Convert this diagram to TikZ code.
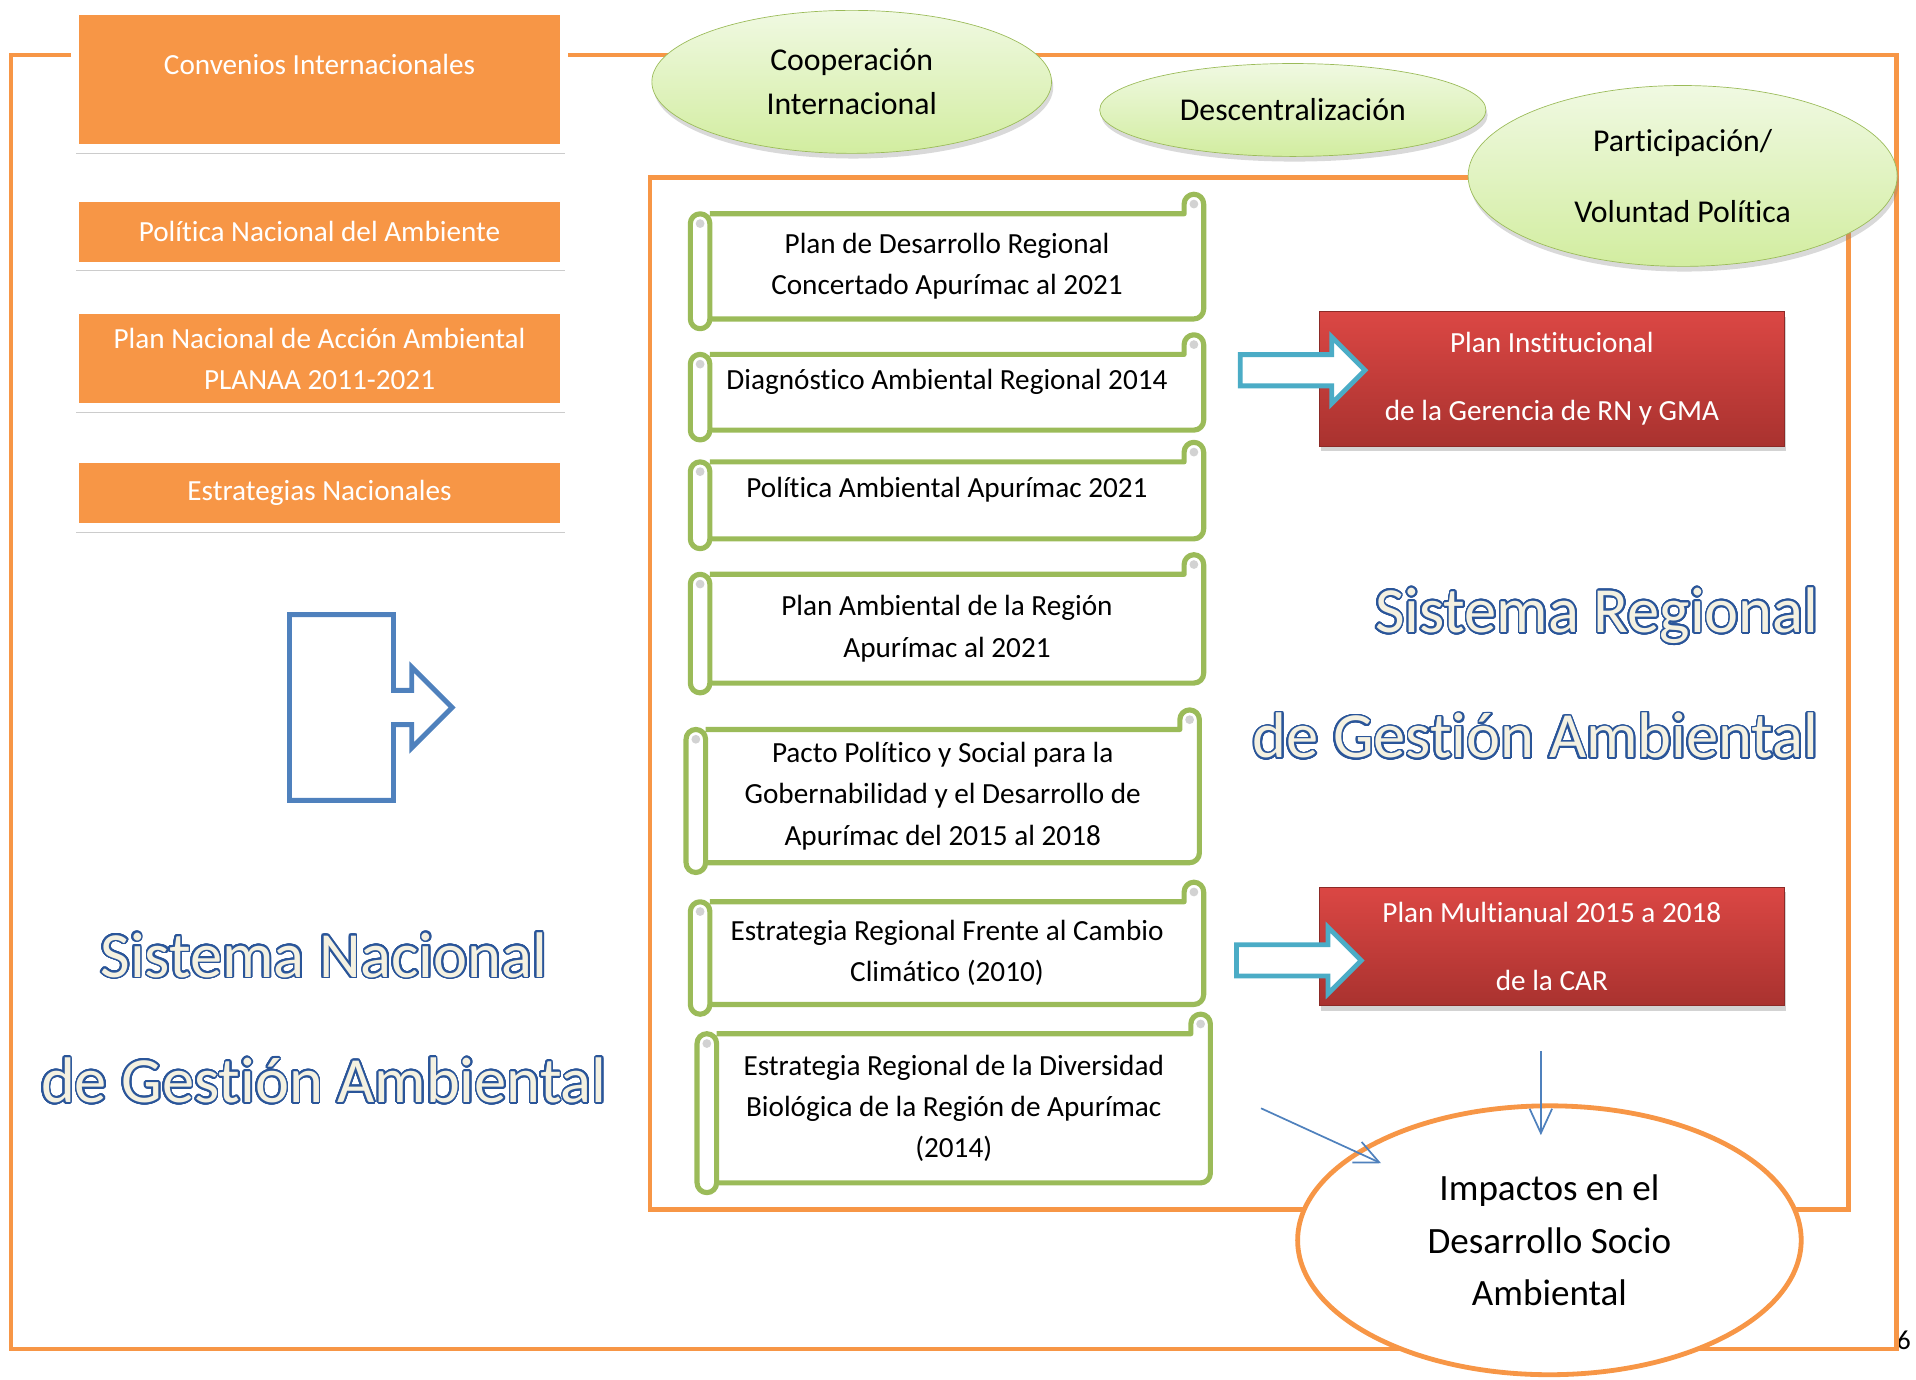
\documentclass[tikz,border=0pt]{standalone}
\usepackage{fontspec}
\setmainfont[Ligatures=NoCommon]{Carlito}
\usepackage{contour}
\contourlength{1pt}
\contournumber{32}
\usetikzlibrary{positioning,shapes.geometric,shapes.arrows,shadows,calc,arrows.meta}

\definecolor{naranja}{HTML}{F79646}
\definecolor{verde}{HTML}{9BBB59}
\definecolor{globoarriba}{HTML}{F0F9E2}
\definecolor{globoabajo}{HTML}{D2EDA0}
\definecolor{rojoarriba}{HTML}{DB4744}
\definecolor{rojoabajo}{HTML}{A9322F}
\definecolor{rojoborde}{HTML}{8C2A27}
\definecolor{celeste}{HTML}{4BACC6}
\definecolor{azul}{HTML}{4F81BD}
\definecolor{azulosc}{HTML}{2A5599}
\definecolor{crema}{HTML}{F4F1E1}

\newcommand{\contorno}[1]{\contour{azulosc}{\textcolor{crema}{#1}}}

% marco de pergamino alrededor de un nodo
\newcommand{\scrollr}{0.2cm}
\newcommand{\scrollframe}[1]{%
  \draw[verde, line width=3pt, line join=round] let \p1=(#1.north west), \p2=(#1.south east) in
    (\x1+2*\scrollr,\y1) -- (\x2-2*\scrollr,\y1) -- (\x2-2*\scrollr,\y1+\scrollr)
      arc[start angle=180, end angle=0, radius=\scrollr] -- (\x2,\y2+\scrollr)
      arc[start angle=0, end angle=-90, radius=\scrollr] -- (\x1+2*\scrollr,\y2)
    (\x1,\y1-\scrollr) arc[start angle=180, end angle=0, radius=\scrollr]
      -- (\x1+2*\scrollr,\y2) arc[start angle=0, end angle=-180, radius=\scrollr] -- cycle;
  \fill[gray!35] let \p1=(#1.north west), \p2=(#1.north east) in
    (\x2-\scrollr,\y2+\scrollr) circle[radius=0.45*\scrollr]
    (\x1+\scrollr,\y1-\scrollr) circle[radius=0.45*\scrollr];
}

\begin{document}
\begin{tikzpicture}[
    x=0.025cm, y=-0.025cm,
    >={Straight Barb[length=5mm,width=4.6mm]},
    font=\fontsize{17}{24}\selectfont,
    marco/.style={draw=naranja, line width=2.8pt},
    natbox/.style={
        rectangle,
        fill=naranja,
        draw=white,
        line width=5pt,
        text=white,
        align=center,
        minimum width=10cm,
        inner sep=0pt,
        outer sep=0pt,
        drop shadow={opacity=0.4, shadow xshift=0.5pt, shadow yshift=-3pt}
    },
    globo/.style={
        ellipse,
        draw=verde,
        thin,
        top color=globoarriba,
        bottom color=globoabajo,
        align=center,
        inner sep=0pt,
        font=\fontsize{18.5}{25.6}\selectfont,
        drop shadow={opacity=0.3, shadow xshift=1pt, shadow yshift=-3pt}
    },
    pergamino/.style={
        rectangle,
        align=center,
        inner sep=0pt,
        outer sep=0pt,
        minimum width=10.5cm
    },
    arriba/.style={text depth=15pt},
    plan/.style={
        rectangle,
        draw=rojoborde,
        top color=rojoarriba,
        bottom color=rojoabajo,
        text=white,
        align=center,
        minimum width=9.5cm,
        inner sep=0pt,
        drop shadow={opacity=0.35, shadow xshift=1pt, shadow yshift=-3pt}
    },
    flecha/.style={
        single arrow,
        draw=celeste,
        fill=white,
        line width=2.8pt,
        minimum height=2.55cm,
        minimum width=1.3cm,
        single arrow head extend=0.36cm,
        inner xsep=0pt,
        inner ysep=0.27cm,
        anchor=tail
    },
    sistema/.style={font=\fontsize{37.5}{73}\selectfont}
  ]
  \useasboundingbox (0,0) rectangle (1568,1129);

  \node [font=\fontsize{16}{18}\selectfont] (pagina) at (1558,1097) {6};

  % marcos
  \draw [marco] (9,45) rectangle (1552,1104);
  \draw [marco] (532,145) rectangle (1513,990);

  % nivel nacional
  \node [natbox, minimum height=2.825cm, text depth=18pt] (convenios) at (261.5,65)
    {Convenios Internacionales};
  \node [natbox, minimum height=1.4cm, below=1cm of convenios] (politnac)
    {Política Nacional del Ambiente};
  \node [natbox, minimum height=2cm, below=0.9cm of politnac] (planaa)
    {Plan Nacional de Acción Ambiental\\PLANAA 2011-2021};
  \node [natbox, minimum height=1.4cm, below=1.05cm of planaa] (estrnac)
    {Estrategias Nacionales};

  \node [arrow box, draw=azul, line width=2.8pt, arrow box arrows={east:1.15cm},
    arrow box shaft width=0.7cm, arrow box head extend=0.475cm, arrow box tip angle=90,
    minimum width=2.125cm, minimum height=3.8cm, inner sep=0pt] (natflecha) at (279.5,579) {};

  \node [sistema, align=center] (sisnac) at (265,833.5)
    {\contorno{Sistema Nacional}\\\contorno{de Gestión Ambiental}};

  % globos
  \node [globo, minimum width=8.175cm, minimum height=2.925cm] (cooperacion) at (697,67)
    {Cooperación\\Internacional};
  \node [globo, minimum width=7.9cm, minimum height=1.9cm] (descentral) at (1058,90)
    {Descentralización};
  \node [globo, minimum width=8.775cm, minimum height=3.7cm] (participacion) at (1377,144)
    {Participación/\\[16pt]Voluntad Política};

  % pergaminos regionales
  \node [pergamino, minimum height=2.15cm] (pdrc) at (775,218)
    {Plan de Desarrollo Regional\\Concertado Apurímac al 2021};
  \node [pergamino, minimum height=1.55cm, arriba] (diagnostico) at (775,321)
    {Diagnóstico Ambiental Regional 2014};
  \node [pergamino, minimum height=1.575cm, arriba] (politreg) at (775,409.5)
    {Política Ambiental Apurímac 2021};
  \node [pergamino, minimum height=2.225cm] (planamb) at (775,514.5)
    {Plan Ambiental de la Región\\Apurímac al 2021};
  \node [pergamino, minimum height=2.725cm] (pacto) at (771.5,651.5)
    {Pacto Político y Social para la\\Gobernabilidad y el Desarrollo de\\Apurímac del 2015 al 2018};
  \node [pergamino, minimum height=2.1cm] (cambio) at (775,780)
    {Estrategia Regional Frente al Cambio\\Climático (2010)};
  \node [pergamino, minimum height=3.05cm] (diversidad) at (780.5,907)
    {Estrategia Regional de la Diversidad\\Biológica de la Región de Apurímac\\(2014)};
  \foreach \pg in {pdrc,diagnostico,politreg,planamb,pacto,cambio,diversidad}
    \scrollframe{\pg};

  % planes
  \node [plan, minimum height=2.75cm] (institucional) at (1270,310)
    {Plan Institucional\\[16pt]de la Gerencia de RN y GMA};
  \node [plan, minimum height=2.425cm] (multianual) at (1270,774.5)
    {Plan Multianual 2015 a 2018\\[16pt]de la CAR};
  \node [flecha] (flecha1) at (1013,303) {};
  \node [flecha] (flecha2) at (1010,786) {};

  \node [sistema, align=right, anchor=east] (sisreg) at (1493,551.5)
    {\contorno{Sistema Regional}\\\contorno{de Gestión Ambiental}};

  % impactos
  \node [ellipse, draw=naranja, line width=2.8pt, fill=white, align=center,
    minimum width=10.3cm, minimum height=5.5cm, inner sep=0pt,
    font=\fontsize{21.6}{30.6}\selectfont] (impacto) at (1268,1015)
    {Impactos en el\\Desarrollo Socio\\Ambiental};

  \coordinate (desde1) at (1032,907);
  \coordinate (desde2) at (1261,860);
  \draw [->, azul, line width=1pt, shorten >=-0.57cm] (desde1) -- (impacto);
  \draw [->, azul, line width=1pt, shorten >=-0.65cm] (desde2) -- (desde2 |- impacto.north);

\end{tikzpicture}
\end{document}
